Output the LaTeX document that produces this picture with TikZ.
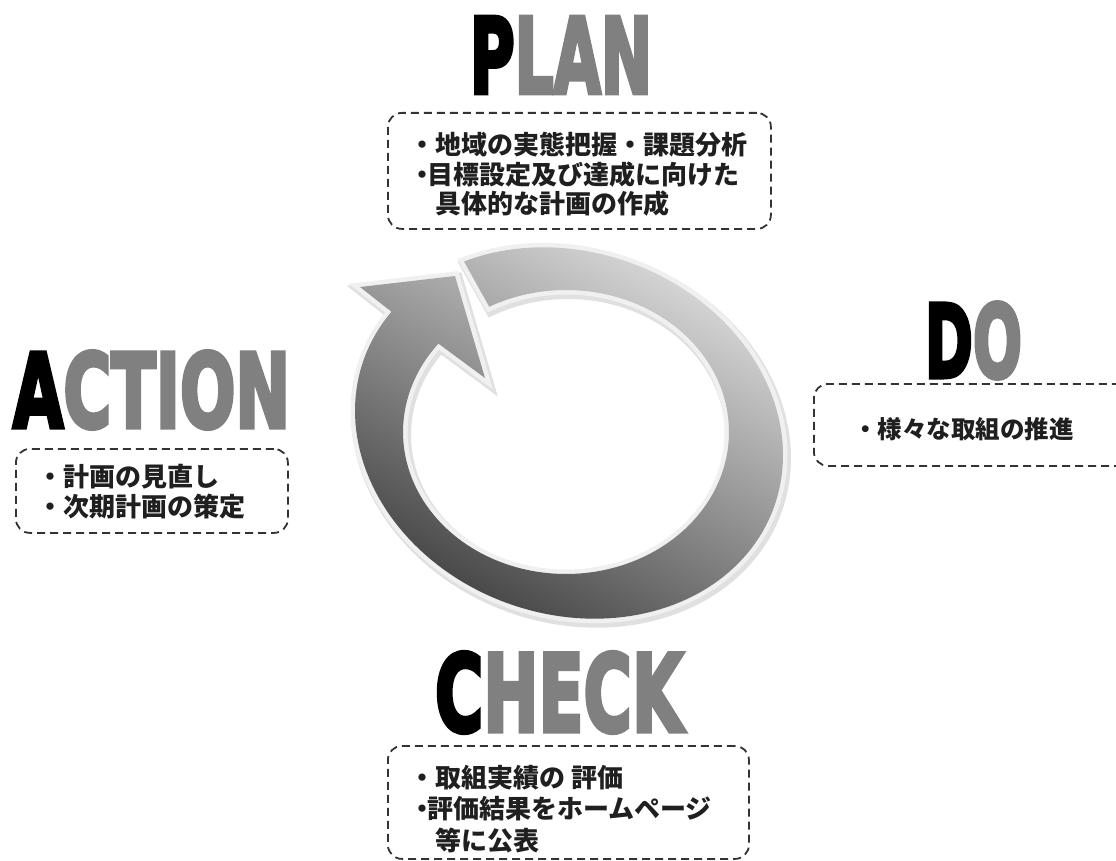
\documentclass[tikz,border=0pt]{standalone}
\usepackage{graphicx}
\usepackage{fontspec}
\newfontfamily\jp{Noto Sans CJK JP}
\newfontfamily\heavy{DejaVu Sans}[BoldFeatures={FakeBold=4.5}]
\definecolor{ringlight}{HTML}{D8D8D8}
\definecolor{ringmid}{HTML}{9C9C9C}
\definecolor{ringdark}{HTML}{454545}
\definecolor{lettergray}{HTML}{808080}
\definecolor{rim}{HTML}{F0F0F0}
\newcommand\tightlines{\setlength{\lineskiplimit}{-50pt}}
\newcommand\memofont{\jp\bfseries\fontsize{26}{29.5}\selectfont\tightlines}
\newcommand\memofonta{\jp\bfseries\fontsize{26}{30}\selectfont\tightlines}
\newcommand\memofontc{\jp\bfseries\fontsize{26}{31.5}\selectfont\tightlines}
\newcommand\memofontd{\jp\bfseries\fontsize{24.5}{30}\selectfont}
\newcommand\ringpath{plot[domain=223.8:557.1,samples=160,variable=\t] ({569+218*cos(\t)*cos(20)-181*sin(\t)*sin(20)},{433+218*cos(\t)*sin(20)+181*sin(\t)*cos(20)}) -- (360,287) -- (455,276) -- (485,378) -- plot[domain=578.5:241.9,samples=160,variable=\t] ({566+163*cos(\t)},{432+142*sin(\t)}) -- cycle}
\tikzset{
  memo/.style={draw=black!80, line width=1.8pt, dash pattern=on 8pt off 5pt, rounded corners=14pt, anchor=north west, inner sep=0pt},
  txt/.style={font=\memofont, align=left, inner sep=0pt, anchor=north west, text=black!88},
  head/.style={inner sep=0pt, anchor=center}
}
\begin{document}
\begin{tikzpicture}[x=1pt,y=-1pt]
\useasboundingbox (0,0) rectangle (1116,861);
% ring arrow
\draw[line width=12pt, black!12, line join=miter, shift={(2,3)}] \ringpath;
\draw[line width=9pt, rim, line join=miter] \ringpath;
\shade[top color=ringlight, middle color=ringmid, bottom color=ringdark, shading angle=-30] \ringpath;
% headings
\node[head] (plan) at (561,55) {\resizebox{182pt}{76pt}{\heavy\bfseries P\textcolor{lettergray}{LAN}}};
\node[head] (action) at (151.5,390) {\resizebox{277pt}{76pt}{\heavy\bfseries A\textcolor{lettergray}{CTION}}};
\node[head] (do) at (973.5,340.5) {\resizebox{97pt}{75pt}{\heavy\bfseries D\textcolor{lettergray}{O}}};
\node[head] (check) at (559,692.5) {\resizebox{248pt}{79pt}{\heavy\bfseries C\textcolor{lettergray}{HECK}}};
% boxes
\node[memo, minimum width=383pt, minimum height=116pt] (planbox) at (387,112) {};
\node[memo, minimum width=272pt, minimum height=84pt] (actionbox) at (15,448) {};
\node[memo, minimum width=320pt, minimum height=82pt] (dobox) at (813,383) {};
\node[memo, minimum width=361pt, minimum height=113pt] (checkbox) at (387,745) {};
% texts
\node[txt] (plantext) at (409,132) {・地域の実態把握・課題分析\\・\hspace{-8pt}目標設定及び達成に向けた\\\hspace*{26pt}具体的な計画の作成};
\node[txt, font=\memofonta] (actiontext) at (37,464) {・計画の見直し\\・次期計画の策定};
\node[txt, font=\memofontd] (dotext) at (853,417) {・様々な取組の推進};
\node[txt, font=\memofontc] (checktext) at (409,765) {・取組実績の 評価\\・\hspace{-8pt}評価結果をホームページ\\\hspace*{26pt}等に公表};
\end{tikzpicture}
\end{document}
